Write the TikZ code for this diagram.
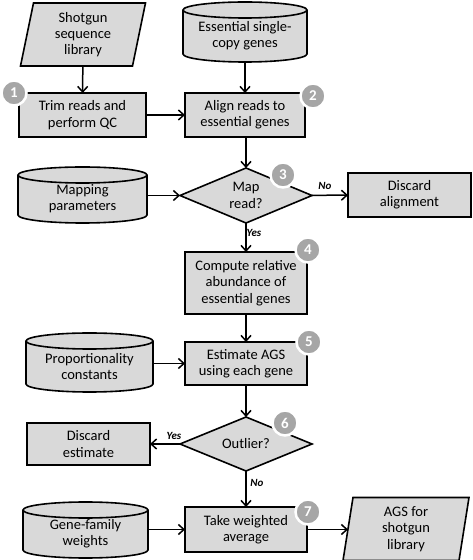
\documentclass[tikz,border=0pt]{standalone}
\usepackage{fontspec}
\setmainfont{Carlito}
\usetikzlibrary{shapes.geometric,arrows.meta,backgrounds,calc}
\definecolor{boxgray}{HTML}{D9D9D9}
\definecolor{badgegray}{HTML}{A6A6A6}
\tikzset{
 base/.style={outer sep=0pt, inner sep=1pt, align=center, font=\fontsize{14.5}{16.3}\selectfont},
 procbox/.style={base, rectangle, draw, fill=boxgray, line width=1.6pt},
 textonly/.style={base, rectangle},
 decision/.style={base, diamond, draw, fill=boxgray, line width=1.6pt, minimum width=132pt, minimum height=55pt, aspect=2.4, inner sep=0pt},
 shapebg/.style={draw, fill=boxgray, line width=1.6pt},
 badge/.style={circle, fill=badgegray, draw=white, line width=2.5pt, minimum size=25pt, inner sep=0pt, text=white, font=\fontsize{15}{15}\selectfont\bfseries},
 conn/.style={line width=1.5pt, -{Straight Barb[length=5.5pt,width=10pt]}},
 lbl/.style={font=\fontsize{11}{11}\selectfont\bfseries\itshape, inner sep=0pt},
}
\newcommand\cylshape[1]{%
 \path[shapebg] let \p1=(#1.north west), \p2=(#1.south east), \n1={(\x2-\x1)/2} in
 (\x1,\y1) -- (\x1,\y2+8pt) arc[start angle=180,end angle=360,x radius=\n1,y radius=8pt] -- (\x2,\y1) arc[start angle=0,end angle=180,x radius=\n1,y radius=8pt] -- cycle
 (\x1,\y1) arc[start angle=180,end angle=360,x radius=\n1,y radius=8pt];}
\newcommand\parashape[2]{%
 \path[shapebg] ([xshift=#2]#1.north west) -- ([xshift=#2]#1.north east) -- ([xshift=-#2]#1.south east) -- ([xshift=-#2]#1.south west) -- cycle;}
\begin{document}
\begin{tikzpicture}[x=1pt,y=1pt]
\useasboundingbox (0,0) rectangle (472,560);
% data / store nodes
\node[textonly, minimum width=112pt, minimum height=63pt] (shotgun) at (83,525.5) {Shotgun\\sequence\\library};
\node[textonly, minimum width=124pt, minimum height=52pt] (ess) at (245,524) {Essential single-\\copy genes};
\node[textonly, minimum width=129pt, minimum height=48pt] (mapping) at (82.5,361) {Mapping\\parameters};
\node[textonly, minimum width=127pt, minimum height=51pt] (prop) at (89.5,193.5) {Proportionality\\constants};
\node[textonly, minimum width=125pt, minimum height=48pt] (gfw) at (85.5,26) {Gene-family\\weights};
\node[textonly, minimum width=116pt, minimum height=63pt] (ags) at (406,31) {AGS for\\shotgun\\library};
\begin{scope}[on background layer]
 \parashape{shotgun}{6.5pt}
 \parashape{ags}{5pt}
 \cylshape{ess}
 \cylshape{mapping}
 \cylshape{prop}
 \cylshape{gfw}
\end{scope}
% process nodes
\node[procbox, minimum width=127pt, minimum height=44pt] (trim) at (82.5,445) {Trim reads and\\perform QC};
\node[procbox, minimum width=120pt, minimum height=44pt] (align) at (245,445) {Align reads to\\essential genes};
\node[decision] (map) at (246,364.5) {Map\\read?};
\node[procbox, minimum width=123pt, minimum height=44pt] (discA) at (409.5,365) {Discard\\alignment};
\node[procbox, minimum width=122pt, minimum height=62pt] (compute) at (246,277) {Compute relative\\abundance of\\essential genes};
\node[procbox, minimum width=122pt, minimum height=43pt] (estimate) at (246,196.5) {Estimate AGS\\using each gene};
\node[decision, minimum height=54pt] (outlier) at (246,116) {Outlier?};
\node[procbox, minimum width=123pt, minimum height=42pt] (discE) at (88.5,116) {Discard\\estimate};
\node[procbox, minimum width=122pt, minimum height=45pt] (take) at (246,30.5) {Take weighted\\average};
% connectors
\draw[conn] (shotgun) -- (trim);
\draw[conn] (ess) -- (ess |- align.north);
\draw[conn] (trim) -- (align);
\draw[conn] (align.south -| map.north) -- (map);
\draw[conn] (mapping.east |- map.west) -- (map);
\draw[conn] (map) -- (discA);
\draw[conn] (map) -- (compute);
\draw[conn] (compute) -- (estimate);
\draw[conn] (prop.east |- estimate.west) -- (estimate);
\draw[conn] (estimate) -- (outlier);
\draw[conn] (outlier) -- (discE);
\draw[conn] (outlier) -- (take);
\draw[conn] (gfw.east |- take.west) -- (take);
\draw[conn] (take) -- (ags.west |- take.east);
% labels
\node[lbl] (lno1) at (325,374) {No};
\node[lbl] (lyes1) at (254,327) {Yes};
\node[lbl] (lyes2) at (174,124) {Yes};
\node[lbl] (lno2) at (257,77) {No};
% badges
\node[badge] (b1) at (14,467) {1};
\node[badge] (b2) at (313,464) {2};
\node[badge] (b3) at (283,385) {3};
\node[badge] (b4) at (308,310) {4};
\node[badge] (b5) at (309,218) {5};
\node[badge] (b6) at (285,137) {6};
\node[badge] (b7) at (308,48) {7};
\end{tikzpicture}
\end{document}
